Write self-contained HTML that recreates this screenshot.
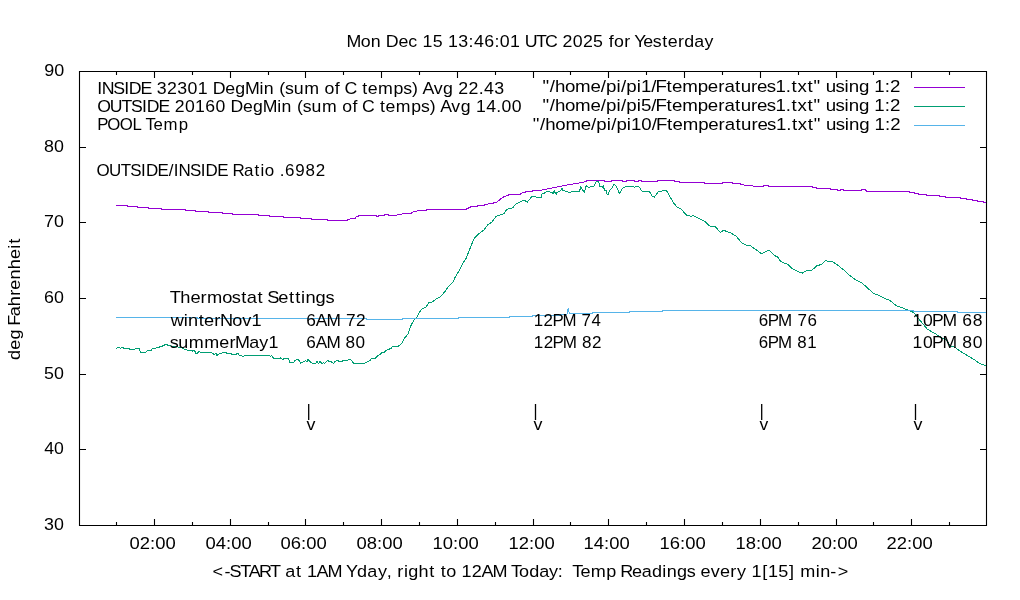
<!DOCTYPE html>
<html><head><meta charset="utf-8"><title>gnuplot</title>
<style>html,body{margin:0;padding:0;background:#fff;overflow:hidden}svg{display:block;will-change:transform}text{white-space:pre;font-family:"Liberation Sans",sans-serif;font-size:16.8px;fill:#000}</style></head><body>
<svg width="1020" height="600" viewBox="0 0 1020 600">
<rect width="1020" height="600" fill="#fff"/>
<path d="M79.5,71.5H986.5V525.5H79.5ZM80,525.5h6M986,525.5h-6M80,449.5h6M986,449.5h-6M80,374.5h6M986,374.5h-6M80,298.5h6M986,298.5h-6M80,222.5h6M986,222.5h-6M80,147.5h6M986,147.5h-6M80,71.5h6M986,71.5h-6M116.5,525v-3M116.5,72v3M154.5,525v-6M154.5,72v6M192.5,525v-3M192.5,72v3M230.5,525v-6M230.5,72v6M268.5,525v-3M268.5,72v3M305.5,525v-6M305.5,72v6M343.5,525v-3M343.5,72v3M381.5,525v-6M381.5,72v6M419.5,525v-3M419.5,72v3M457.5,525v-6M457.5,72v6M495.5,525v-3M495.5,72v3M533.5,525v-6M533.5,72v6M570.5,525v-3M570.5,72v3M608.5,525v-6M608.5,72v6M646.5,525v-3M646.5,72v3M684.5,525v-6M684.5,72v6M722.5,525v-3M722.5,72v3M760.5,525v-6M760.5,72v6M798.5,525v-3M798.5,72v3M836.5,525v-6M836.5,72v6M873.5,525v-3M873.5,72v3M911.5,525v-6M911.5,72v6M949.5,525v-3M949.5,72v3" fill="none" stroke="#000" stroke-width="1.1"/>
<g fill="none" stroke-width="1" shape-rendering="crispEdges">
<path d="M116.3,205.5H127V206.5H137.4V207.5H148V208.5H161.6V209.5H185V210.5H195V211.5H208.7V212.5H222V213.5H232V214.5H250V214.5H258.8V215.5H269.9V216.5H283.8V217.5H300.7V218.5H311V219.5H327.2V220.5H346.3V220.5L351.5,218.5H355V217.5L359.6,215.5H374.3V215.5H376V216.5H378V215.5H384.6V214.5H388V215.5H395V215.5L403.8,213.5H411V212.5L418.5,210.5H426.6V209.5H465.6V209.5L471.5,206.5H477.4V205.5H484.7V204.5L496.5,202.5L502.4,197.5L509.7,194.5H520V193.5L527.4,191.5H532.5V190.5H540V190.5L554.7,187.5L569.4,184.5L582.2,182.5L588,180.5H594V180.5H604.6V181.5H611.6V180.5H622V181.5H626V180.5H634V181.5H638V180.5H641.6V181.5H657.6V180.5H674.5V181.5H679.5V182.5H704V183.5H722V182.5H732V183.5H740V184.5L757.6,186.5H763V185.5H768V186.5H812.4V187.5H816.5V188.5H830V189.5H837V190.5H840.6V189.5H843V190.5H861.8V189.5H865V190.5H866V191.5H909.7V192.5H914.7V193.5H918.8V194.5H926V195.5H939V196.5H945V197.5H960V198.5H966V199.5H972V200.5H977.5V201.5H983.5V202.5H986V202.5" stroke="#9400d3"/>
<polyline points="116.1,348.5 117.3,347.5 119.5,347.5 120.5,348.5 121.5,347.5 123.5,347.5 124,348.5 129.3,348.5 129.6,349.5 134.6,349.5 135.2,348.5 139.6,348.5 140.2,352.5 145.8,352.5 147.3,350.5 151,350.5 152.5,348.5 155.5,348.5 156.5,347.5 159,347.5 159.5,346.5 162,346.5 162.5,345.5 164,345.5 164.5,344.5 167,344.5 167.5,345.5 170.5,345.5 171.5,346.5 177,346.5 178.5,347.5 181,347.5 183.5,348.5 184.5,349.5 186.5,349.5 187.5,350.5 192,350.5 192.5,351.5 194,350.5 195,351.5 196,353.5 197,353.5 197.6,352.5 199.4,351.5 200.6,352.5 211.5,352.5 212.5,353.5 214.5,354.5 216,353.5 217,355.5 218,354.5 220,353.5 221.5,353.5 223,352.5 226,352.5 227,353.5 231.8,353.5 232,354.5 236.8,354.5 237,353.5 238.6,353.5 239.2,355.5 241.5,355.5 243,356.5 244.5,355.5 269.5,355.5 270.5,356.5 271.5,355.5 272.5,356.5 273.5,358.5 280,358.5 280.5,357.5 281.5,358.5 283,359.5 284,358.5 288.5,358.5 290,362.5 293.5,362.5 295,360.5 297.5,359.5 299.7,360.5 300.3,363.5 302,362.5 304,361.5 305.6,360.5 307,361.5 308,359.5 310,361.5 312.4,363.5 315.6,363.5 317,361.5 318.5,363.5 320,361.5 322,363.5 323.5,362.5 324.4,363.5 326.5,361.5 327.4,360.5 329.4,361.5 331.2,361.5 332,362.5 333.5,363.5 335,361.5 337.4,360.5 338,360.5 339.2,361.5 342.7,361.5 343,360.5 347.7,360.5 348.3,359.5 350,359.5 351.5,360.5 353,362.5 353.5,363.5 364.5,363.5 365.5,362.5 368,361.5 370,360.5 371.5,358.5 374.8,358.5 376,357.5 378,355.5 380,354.5 382,352.5 384.5,352.5 385.5,350.5 388,349.5 391,348.5 392.5,346.5 398,346.5 402,343.3 404.7,338 408,334 411.3,324.7 414,320 416.7,317.3 418.7,313.3 422,308.7 426,307 428.7,302.7 431.3,302.7 436,299 440.5,296.7 445,291.5 448,287 453.2,281.7 455.5,276.5 459.2,270.5 462.2,264.5 466,258.5 469,251 472,243.5 474.2,238.2 478,234.5 484,230 487.7,224.7 491.5,222.5 496,216.5 503.8,213.7 506.8,209.4 512.6,207.9 515.6,204.1 521.5,201.2 524.4,200.4 527.4,202 531.8,196.5 537.6,197.2 538,197.5 541.6,197.5 542.1,193.5 543.9,193.5 546.8,191.5 549.8,191.5 550.5,192.5 552.1,192.5 553,193.5 553.5,193.5 554.2,190.5 555,192.5 555.6,193.5 556.2,194.5 556.8,192.5 559.2,191.5 561.5,189.5 562.1,188.5 562.7,190.5 563.9,190.5 566.2,191.5 569.8,192.5 572.7,191.5 579.2,191.5 580,189.5 580.9,186.5 581.8,188.5 583,190.5 584.5,192.5 585.1,189.5 586.2,185.5 586.8,186.5 588.6,187.5 590.9,186.5 594,186 595.2,183.6 596.5,181.3 598.7,181.3 599.3,185.4 600,186.6 602.2,186.6 603,187.5 603.4,186.3 604.6,190.7 606.4,190.7 607,194.2 608.7,194.2 609.3,190.7 611,189 612.2,187.5 614,184.2 615.8,185.7 617.5,189 619.3,193.4 621,191 622.2,188.4 624,187.5 625.8,186.6 632.2,186.3 634.6,187.5 635.8,186.5 638.7,186.5 642.2,191.3 649.3,191.3 652.2,196.3 654.3,197 658.3,191.7 666.3,190.3 673.7,203 677,207 681,209 686.3,215 691,216.3 693.7,215.7 700.3,219 704.3,221 709.7,226 715,226.3 720.3,232.3 723.7,230.3 731,233 736.3,236.3 741.7,243 747,245.7 750,245.5 757,250.3 761.4,253.8 767.5,250.6 770.1,251.1 774.5,255.5 778,257.3 780.6,261.6 787.6,264.3 792,268.6 799,272.1 802.5,273 806,270.9 811.3,270.9 816.5,266 821.8,264.3 825.3,260.8 832.3,261.6 837.5,265.1 844.5,270.4 850,275.7 854.7,279.2 861.7,282.7 873.3,293.2 880.3,296 886,298.9 889.7,300.2 896.7,306 903.7,308.3 910,311 913.8,312.5 917.5,317.5 921.3,321.9 927.5,329.4 933.8,332.8 941.3,337.5 946.3,340 950,345.6 955,347.5 961.3,351.9 967.5,355.6 975,360 980,363.8 985.5,365.6" stroke="#009e73"/>
<path d="M116,317.5H197V318.5H366V319.5H402V318.5H458V317.5H509V316.5H532V315.5H560V314.5H567L568.2,307.6L569.3,313.5H592V312.5H629V311.5H662V310.5H913V311.5H957V312.5H986" stroke="#56b4e9"/>
<path d="M914,87.5H965" stroke="#9400d3"/><path d="M914,106.5H965" stroke="#009e73"/><path d="M914,125.5H965" stroke="#56b4e9"/>
</g>
<path d="M308.7,404V420" stroke="#000" stroke-width="1.3"/><path d="M535.5,404V420" stroke="#000" stroke-width="1.3"/><path d="M761.7,404V420" stroke="#000" stroke-width="1.3"/><path d="M915.5,404V420" stroke="#000" stroke-width="1.3"/><text id="title" transform="scale(1.0598,1)" x="326.99 340.49 349.94 359.51 364.03 375.95 385.26 393.71 398.61 408.28 417.85 422.75 432.41 442.14 447.19 456.85 466.57 471.62 481.28 490.86 495.09 505.78 514.33 525.78 530.69 540.33 550.01 559.66 569.23 574.32 579.31 588.94 595.08 598.48 606.94 616.03 624.84 630.14 639.67 645.6 655.07 664.69" y="47">Mon Dec 15 13:46:01 UTC 2025 for Yesterday</text>
<text id="y90" transform="scale(1.0708,1)" x="41.29 50.61" y="76">90</text>
<text id="y80" transform="scale(1.0622,1)" x="41.45 50.78" y="152">80</text>
<text id="y70" transform="scale(1.0622,1)" x="41.45 50.78" y="227">70</text>
<text id="y60" transform="scale(1.0622,1)" x="41.45 50.78" y="303">60</text>
<text id="y50" transform="scale(1.0622,1)" x="41.45 50.78" y="378.7">50</text>
<text id="y40" transform="scale(1.0513,1)" x="42.07 51.4" y="454">40</text>
<text id="y30" transform="scale(1.0622,1)" x="41.45 50.78" y="530">30</text>
<text id="l1" transform="scale(1.0580,1)" x="91.88 96.08 107.04 117.37 121.73 132.84 143.31 148.24 157.89 167.56 177.22 186.9 196.46 201.02 212.93 222.41 231.47 245.26 249.38 258.94 263.87 269.38 277.68 287.58 302.04 306.78 316.43 321.51 325.51 336.94 342.35 347.66 357.4 371.96 381.21 389.52 395.84 399.42 409.92 418.76 428.33 433.24 442.92 452.48 457.41 467.07" y="94">INSIDE 32301 DegMin (sum of C temps) Avg 22.43</text>
<text id="l2" transform="scale(1.0511,1)" x="92.43 104.51 115.69 124.74 135.11 139.52 150.7 161.21 166.18 175.89 185.61 195.34 205.07 214.68 219.28 231.25 240.79 249.92 263.76 267.92 277.52 282.48 288.03 296.38 306.36 320.87 325.65 335.35 340.47 344.51 355.99 361.43 366.77 376.6 391.22 400.52 408.88 415.22 418.84 429.4 438.3 447.91 452.87 462.6 472.21 477.18 486.89" y="112">OUTSIDE 20160 DegMin (sum of C temps) Avg 14.00</text>
<text id="l3" transform="scale(1.0000,1)" x="97.2 107.24 119.66 132.45 141.54 145.51 153.38 163.61 178.64" y="130">POOL Temp</text>
<text id="k1" transform="scale(1.1130,1)" x="487.45 493.87 498.56 507.58 516.74 530.57 539.81 544.51 553.92 557.9 562.6 572.01 575.83 585.21 589.02 598.82 603.77 612.97 626.93 635.99 645.29 650.84 660.46 665.54 674.82 680.22 688.93 696.83 706.08 711.21 716.48 725.47 730.99 737.26 741.83 750.66 758.77 762.57 771.76 780.99 785.56 794.95 799.66" y="91.7">"/home/pi/pi1/Ftemperatures1.txt" using 1:2</text>
<text id="k2" transform="scale(1.1130,1)" x="487.45 493.87 498.56 507.58 516.74 530.57 539.81 544.51 553.92 557.9 562.6 572.01 575.83 585.21 589.02 598.82 603.77 612.97 626.93 635.99 645.29 650.84 660.46 665.54 674.82 680.22 688.93 696.83 706.08 711.21 716.48 725.47 730.99 737.26 741.83 750.66 758.77 762.57 771.76 780.99 785.56 794.95 799.66" y="111">"/home/pi/pi5/Ftemperatures1.txt" using 1:2</text>
<text id="k3" transform="scale(1.1112,1)" x="479.55 485.97 490.66 499.68 508.85 522.68 531.93 536.63 546.04 550.03 554.73 564.15 567.96 577.18 586.57 590.39 600.19 605.15 614.33 628.32 637.38 646.68 652.24 661.84 666.94 676.23 681.63 690.33 698.25 707.48 712.64 717.9 726.89 732.41 738.71 743.26 752.09 760.22 764.02 773.2 782.45 787.03 796.4 801.12" y="130">"/home/pi/pi10/Ftemperatures1.txt" using 1:2</text>
<text id="ratio" transform="scale(1.0096,1)" x="95.49 108.05 119.66 129.1 139.77 144.51 156.13 167.1 172.14 176.7 188.18 198.84 203.58 215.21 226.03 230.19 241.8 252.15 257.93 262.22 271.95 277.01 282.26 292.4 302.51 312.65" y="176">OUTSIDE/INSIDE Ratio .6982</text>
<text id="ts" transform="scale(1.0886,1)" x="156.02 165.67 174.89 184.21 190.12 204.15 212.99 221.61 226.68 236.44 241.69 245.45 255.62 265.4 271.18 276.61 280.53 289.9 298.9" y="303">Thermostat Settings</text>
<text id="wn" transform="scale(1.0809,1)" x="157.88 170.08 173.97 183.82 188.85 198.25 203.47 214.82 224.11 232.63" y="326">winterNov1</text>
<text id="sm" transform="scale(1.0684,1)" x="158.83 166.94 176.58 191.07 205.22 214.72 220 233.31 242.74 251.4" y="348">summerMay1</text>
<text id="w6" transform="scale(1.0299,1)" x="297.36 306.59 317.11 330.85 335.86 345.66" y="326">6AM 72</text>
<text id="s6" transform="scale(1.0214,1)" x="299.83 309.06 319.58 333.33 338.34 348.13" y="348">6AM 80</text>
<text id="w12" transform="scale(1.0044,1)" x="531.33 541.24 549.98 560 573.87 578.97 588.9" y="326">12PM 74</text>
<text id="s12" transform="scale(1.0153,1)" x="525.62 535.53 544.27 554.29 568.16 573.26 583.19" y="348">12PM 82</text>
<text id="w18" transform="scale(1.0120,1)" x="749.85 758.68 768.85 782.81 788 798.03" y="326">6PM 76</text>
<text id="s18" transform="scale(1.0059,1)" x="754.36 763.19 773.36 787.33 792.51 802.55" y="348">6PM 81</text>
<text id="w22" transform="scale(1.0441,1)" x="874.06 883.98 892.72 902.74 916.6 921.71 931.63" y="326">10PM 68</text>
<text id="s22" transform="scale(1.0441,1)" x="874.06 883.98 892.72 902.74 916.6 921.71 931.63" y="348">10PM 80</text>
<text id="v1" transform="scale(1.0645,1)" x="287.93" y="429.7">v</text>
<text id="v2" transform="scale(1.0645,1)" x="501.16" y="429.7">v</text>
<text id="v3" transform="scale(1.0432,1)" x="728.04" y="429.7">v</text>
<text id="v4" transform="scale(1.0645,1)" x="858.12" y="429.7">v</text>
<text id="xl" transform="scale(1.0751,1)" x="197.76 208.88 213.54 223.41 231.46 240.95 251.16 260.76 265.43 275.3 280.63 285.46 294.46 304.67 318.36 321.91 332.19 341.57 351.71 359.77 364.56 369.56 375.67 379.72 389.24 399.29 404.61 409.96 415.15 424.47 429.3 438.86 447.84 458.08 471.74 475.43 482.85 492.23 501.6 510.56 518.85 523.78 528.7 532.39 539.85 549.45 563.87 573.36 576.89 587.79 597.01 606.38 616.03 620.08 629.61 638.76 646.92 651.6 661.13 669.73 679.3 685.44 694.14 698.95 709.01 714.38 723.93 733.98 739.3 744.34 758.87 762.92 772.25 779.15" y="577">&lt;-START at 1AM Yday, right to 12AM Today:  Temp Readings every 1[15] min-&gt;</text>
<text id="x02" transform="scale(1.0970,1)" x="118.07 127.34 136.77 141.55 150.82" y="549">02:00</text>
<text id="x04" transform="scale(1.0970,1)" x="187.35 196.63 206.06 210.83 220.1" y="549">04:00</text>
<text id="x06" transform="scale(1.0970,1)" x="255.73 265 274.43 279.2 288.47" y="549">06:00</text>
<text id="x08" transform="scale(1.0970,1)" x="325.01 334.28 343.71 348.48 357.76" y="549">08:00</text>
<text id="x10" transform="scale(1.0970,1)" x="394.29 403.56 412.99 417.76 427.04" y="549">10:00</text>
<text id="x12" transform="scale(1.0970,1)" x="463.57 472.85 482.28 487.05 496.32" y="549">12:00</text>
<text id="x14" transform="scale(1.0970,1)" x="531.94 541.22 550.65 555.42 564.69" y="549">14:00</text>
<text id="x16" transform="scale(1.0970,1)" x="601.23 610.5 619.93 624.7 633.97" y="549">16:00</text>
<text id="x18" transform="scale(1.0970,1)" x="670.51 679.78 689.21 693.98 703.26" y="549">18:00</text>
<text id="x20" transform="scale(1.0970,1)" x="739.79 749.07 758.49 763.27 772.54" y="549">20:00</text>
<text id="x22" transform="scale(1.0970,1)" x="808.16 817.44 826.87 831.64 840.91" y="549">22:00</text>
<text id="ylab" transform="translate(20,359) rotate(-90) scale(1.0791,1)" x="-0.82 8.62 18.05 27.58 30.84 39.57 48.99 58.58 64.29 73.72 83.29 92.73 102.26 106.87" y="0">deg Fahrenheit</text>
</svg>
</body></html>
